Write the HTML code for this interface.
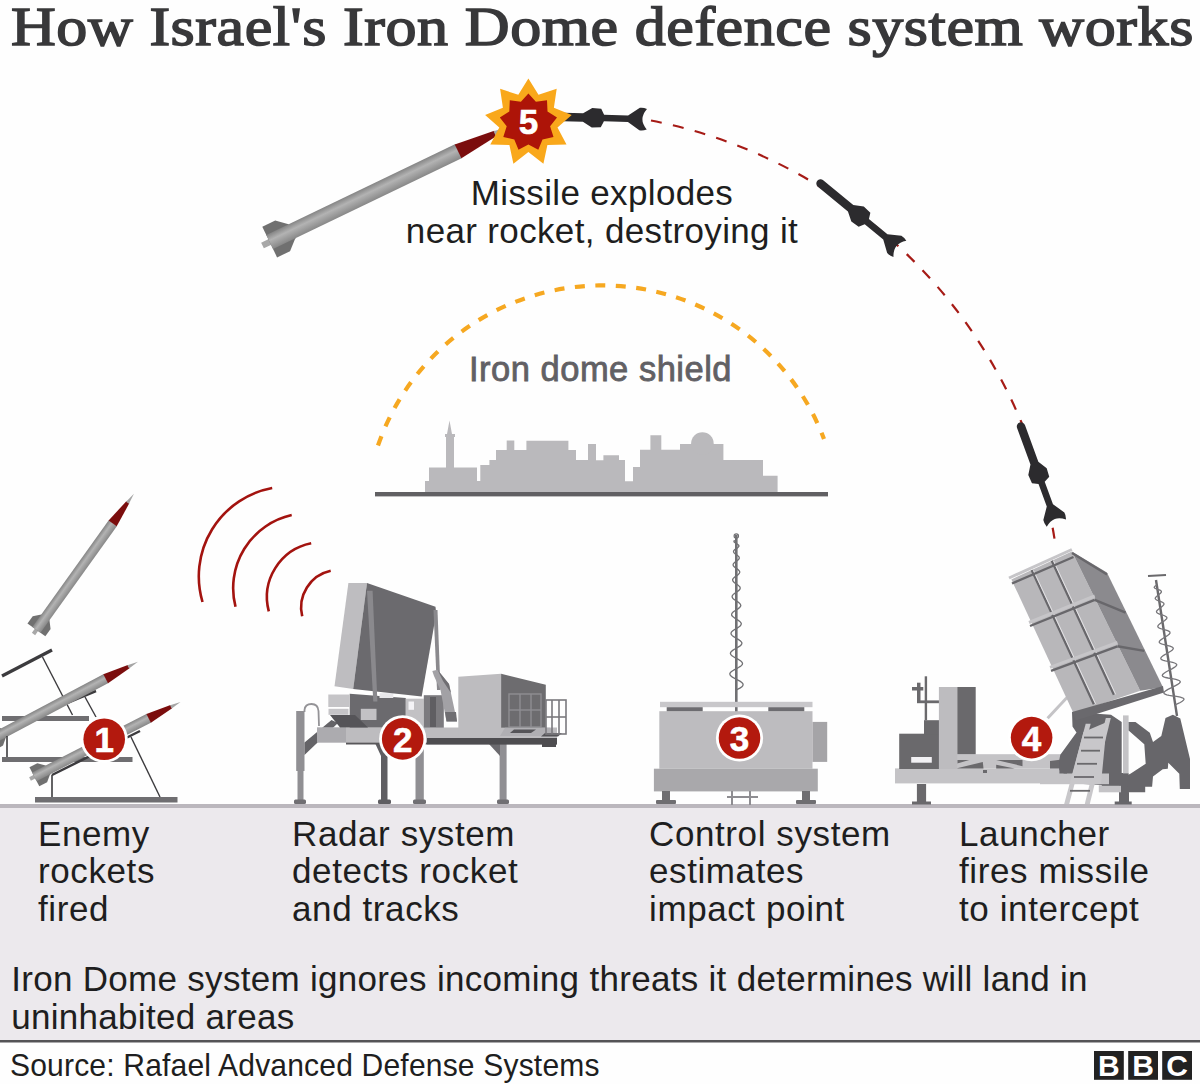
<!DOCTYPE html>
<html><head><meta charset="utf-8">
<style>
html,body{margin:0;padding:0;background:#fefefe;}
#root{position:relative;width:1200px;height:1084px;overflow:hidden;background:#fefefe;font-family:"Liberation Sans",sans-serif;color:#1e1e20;}
.t{position:absolute;white-space:nowrap;line-height:37px;}
#title{font-family:"Liberation Serif",serif;font-weight:normal;font-size:55px;color:#38383a;left:11px;top:-5px;line-height:64px;letter-spacing:0.5px;-webkit-text-stroke:1.5px #38383a;transform:scaleX(1.128);transform-origin:0 0;}
.lab{font-size:35px;line-height:37.6px;letter-spacing:0.6px;}
svg{position:absolute;left:0;top:0;}
.num{font-weight:bold;font-size:35px;color:#fff;-webkit-text-stroke:0.6px #fff;width:40px;margin-left:-20px;margin-top:-18px;text-align:center;line-height:38px;}
.bbc{font-weight:bold;font-size:30px;color:#fff;width:29.8px;text-align:center;top:1049.5px;line-height:31px;}
</style></head>
<body><div id="root">
<svg width="1200" height="1084" viewBox="0 0 1200 1084">
<defs>
  <linearGradient id="gbody" x1="0" y1="0" x2="0" y2="1">
    <stop offset="0" stop-color="#858585"/><stop offset="0.4" stop-color="#b3b3b3"/><stop offset="1" stop-color="#888888"/>
  </linearGradient>
</defs>

<!-- ground panel -->
<rect x="0" y="806" width="1200" height="235" fill="#ece9ed"/>
<rect x="0" y="804" width="1200" height="4" fill="#bbb7bd"/>
<rect x="0" y="1040" width="1200" height="2.5" fill="#545356"/>

<!-- interceptor arc -->
<path d="M 651 120.5 A 507 507 0 0 1 1055 542" fill="none" stroke="#a61b16" stroke-width="2.2" stroke-dasharray="11 11.5"/>
<!-- dome arc -->
<path d="M 378 445.5 A 237 237 0 0 1 824 439" fill="none" stroke="#f6a821" stroke-width="4.2" stroke-dasharray="10 10.5"/>

<!-- skyline -->
<path d="M425,492 L425,481 L429,481 L429,467.6 L446,467.6 L446,437 L445,437 L445,434 L447,434 L449.5,420.6 L452,434 L455,434 L455,437 L454,437 L454,467.6 L477,467.6 L477,481 L480.3,481 L480.3,465 L489.4,465 L489.4,460 L496,460 L496,450 L506.7,450 L506.7,440.5 L514.3,440.5 L514.3,450 L526.4,450 L526.4,440.7 L568.4,440.7 L568.4,450 L576,450 L576,460 L588,460 L588,444 L596,444 L596,460.2 L603.4,460.2 L603.4,455.3 L619,455.3 L619,460 L625,460 L625,481.3 L633,481.3 L633,467 L640,467 L640,449.8 L650.4,449.8 L650.4,435.3 L661.3,435.3 L661.3,449.8 L680,449.8 L680,444 L723.4,444 L723.4,460 L763,460 L763,475.8 L777.6,475.8 L777.6,492 Z" fill="#bab9bc"/>
<circle cx="702.4" cy="443.5" r="11.3" fill="#bab9bc"/>
<rect x="375" y="492" width="453" height="4.4" fill="#616063"/>

<!-- sky rocket -->
<g transform="translate(262.5,245.5) rotate(-25.7) scale(1.596,1.55)">
    <rect x="0" y="-2" width="6" height="4" fill="#a8a8a8"/>
    <polygon points="5,-11 14,-11 20.5,-5 20.5,5 14,11 5,11" fill="#707070"/>
    <rect x="5" y="-5" width="131.5" height="10" fill="url(#gbody)"/>
    <polygon points="136,-5 162,-1.8 162,1.8 136,5" fill="#7b0d0d"/>
    <polygon points="161.5,-1.8 172.5,0 161.5,1.8" fill="#a5a5a5"/>
  </g>
<!-- interceptor missiles -->
<g transform="translate(647,119.2) rotate(-178.5)"><path fill="#2c2b2e" d="M0,-10.3 Q4,-11.8 7.4,-11.2 L19,-3.3 L43,-3.3 L46,-9.2 L55,-9.8 L64,-4.2 L103,-4.2 A4.2,4.2 0 0 1 103,4.2 L64,4.2 L55,9.8 L46,9.2 L43,3.3 L19,3.3 L7.4,11.2 Q4,11.8 0.3,10.3 Q4.6,5 4.6,0 Q4.6,-5 0,-10.3 Z"/></g>
<g transform="translate(900,249) rotate(-140.5)"><path fill="#2c2b2e" d="M0,-10.3 Q4,-11.8 7.4,-11.2 L19,-3.3 L43,-3.3 L46,-9.2 L55,-9.8 L64,-4.2 L103,-4.2 A4.2,4.2 0 0 1 103,4.2 L64,4.2 L55,9.8 L46,9.2 L43,3.3 L19,3.3 L7.4,11.2 Q4,11.8 0.3,10.3 Q4.6,5 4.6,0 Q4.6,-5 0,-10.3 Z"/></g>
<g transform="translate(1056.4,523.2) rotate(-110.1)"><path fill="#2c2b2e" d="M0,-10.3 Q4,-11.8 7.4,-11.2 L19,-3.3 L43,-3.3 L46,-9.2 L55,-9.8 L64,-4.2 L103,-4.2 A4.2,4.2 0 0 1 103,4.2 L64,4.2 L55,9.8 L46,9.2 L43,3.3 L19,3.3 L7.4,11.2 Q4,11.8 0.3,10.3 Q4.6,5 4.6,0 Q4.6,-5 0,-10.3 Z"/></g>
<!-- explosion -->
<polygon fill="#f9a81b" points="528.4,78.5 538.5,94.8 556.7,88.8 553.9,107.8 571.7,114.9 557.5,127.6 566.5,144.5 547.4,145.1 543.4,163.8 528.4,152.0 513.4,163.8 509.4,145.1 490.3,144.5 499.3,127.6 485.1,114.9 502.9,107.8 500.1,88.8 518.3,94.8"/>
<polygon fill="#ad1408" points="528.4,93.5 535.9,101.8 547.0,100.3 547.5,111.5 557.0,117.5 550.1,126.3 553.5,137.0 542.5,139.4 538.3,149.8 528.4,144.5 518.5,149.8 514.3,139.4 503.3,137.0 506.7,126.3 499.8,117.5 509.3,111.5 509.8,100.3 520.9,101.8"/>

<!-- radar waves -->
<g fill="none" stroke="#a3130f" stroke-width="2.6">
<path d="M202.5,602 A 90 90 0 0 1 272.2,488"/>
<path d="M235.5,606.8 A 75 75 0 0 1 291.7,515"/>
<path d="M268.8,611.3 A 55 55 0 0 1 311.2,543.2"/>
<path d="M302.2,616.2 A 37.5 37.5 0 0 1 330.7,570.8"/>
</g>

<!-- enemy launchers -->
<g>
  <line x1="2" y1="676" x2="52" y2="650" stroke="#3c3b3e" stroke-width="3.2"/>
  <line x1="42.5" y1="657" x2="72.5" y2="715" stroke="#3c3b3e" stroke-width="1.4"/>
  <rect x="2" y="716" width="87" height="5" fill="#6f6e71"/>
  <line x1="62" y1="705" x2="96" y2="691" stroke="#3c3b3e" stroke-width="2.5"/>
  <g transform="translate(-14.5,742.4) rotate(-27.9)">
    <rect x="0" y="-2" width="6" height="4" fill="#a8a8a8"/>
    <polygon points="5,-11 14,-11 20.5,-5 20.5,5 14,11 5,11" fill="#707070"/>
    <rect x="5" y="-5" width="131.5" height="10" fill="url(#gbody)"/>
    <polygon points="136,-5 162,-1.8 162,1.8 136,5" fill="#7b0d0d"/>
    <polygon points="161.5,-1.8 172.5,0 161.5,1.8" fill="#a5a5a5"/>
  </g>
  <line x1="7" y1="736" x2="7" y2="757" stroke="#3c3b3e" stroke-width="1.6"/>
  <line x1="85" y1="697" x2="96" y2="717" stroke="#3c3b3e" stroke-width="1.4"/>
  <rect x="2" y="757" width="130.5" height="5" fill="#6f6e71"/>
  <line x1="52" y1="775" x2="140" y2="731" stroke="#3c3b3e" stroke-width="2.5"/>
  <g transform="translate(30,779) rotate(-27.1) scale(0.98)">
    <rect x="0" y="-2" width="6" height="4" fill="#a8a8a8"/>
    <polygon points="5,-11 14,-11 20.5,-5 20.5,5 14,11 5,11" fill="#707070"/>
    <rect x="5" y="-5" width="131.5" height="10" fill="url(#gbody)"/>
    <polygon points="136,-5 162,-1.8 162,1.8 136,5" fill="#7b0d0d"/>
    <polygon points="161.5,-1.8 172.5,0 161.5,1.8" fill="#a5a5a5"/>
  </g>
  <line x1="52" y1="775" x2="52" y2="797" stroke="#3c3b3e" stroke-width="1.6"/>
  <line x1="131" y1="737" x2="160" y2="797" stroke="#3c3b3e" stroke-width="1.4"/>
  <rect x="35" y="797" width="142.5" height="5.5" fill="#6f6e71"/>
  <g transform="translate(104.2,739.2)">
    <circle r="23.6" fill="#ffffff"/>
    <circle r="20.8" fill="#b3190e"/>
  </g>
</g>
<g transform="translate(33.5,634) rotate(-54.4)">
    <rect x="0" y="-2" width="6" height="4" fill="#a8a8a8"/>
    <polygon points="5,-11 14,-11 20.5,-5 20.5,5 14,11 5,11" fill="#707070"/>
    <rect x="5" y="-5" width="131.5" height="10" fill="url(#gbody)"/>
    <polygon points="136,-5 162,-1.8 162,1.8 136,5" fill="#7b0d0d"/>
    <polygon points="161.5,-1.8 172.5,0 161.5,1.8" fill="#a5a5a5"/>
  </g>
<!-- radar vehicle -->
<g id="radar">
  <!-- legs -->
  <rect x="296.2" y="711" width="8.3" height="60" fill="#908f93"/>
  <rect x="297.5" y="769" width="6" height="32" fill="#908f93"/>
  <rect x="294" y="799.5" width="12" height="4.5" rx="1.5" fill="#706f73"/>
  <path d="M304.5,712 L304.5,710 Q305,704 311.5,704 Q318,704 318.5,711 L319,726" fill="none" stroke="#949397" stroke-width="1.8"/>
  <rect x="381" y="744" width="6.5" height="57" fill="#5f5e62"/>
  <polygon points="375,743 384,743 387,756 381,756" fill="#5f5e62"/>
  <rect x="378" y="799.5" width="13" height="4.5" rx="1.5" fill="#5f5e62"/>
  <rect x="415.5" y="744" width="8.3" height="57" fill="#908f93"/>
  <rect x="413" y="799.5" width="13" height="4.5" rx="1.5" fill="#706f73"/>
  <rect x="499.6" y="744" width="7" height="57" fill="#908f93"/>
  <polygon points="489,744 500,744 500,756" fill="#6b6a6e"/>
  <rect x="497" y="799.5" width="12" height="4.5" rx="1.5" fill="#706f73"/>
  <!-- platform -->
  <polygon points="304.5,742.5 331.5,720 338,723 316,744 304.5,755" fill="#646367"/>
  <rect x="317" y="727.5" width="240" height="15" fill="#bdbcbf"/>
  <rect x="317" y="727.5" width="29" height="15" fill="#acabaf"/>
  <rect x="346" y="742.5" width="211" height="2" fill="#58575a"/>
  <rect x="427" y="738" width="130" height="6.3" fill="#4e4d50"/>
  <rect x="542" y="744" width="14" height="3" fill="#4e4d50"/>
  <!-- right box -->
  <polygon points="458.3,676.8 501.1,673.7 501.1,735.6 458.3,735.6" fill="#bdbcbf"/>
  <polygon points="501.1,673.7 545.8,684.7 545.8,727.8 501.1,727.8" fill="#6d6c6f"/>
  <g stroke="#8f8e92" stroke-width="1.4" fill="none">
    <rect x="509" y="694" width="32" height="33"/>
    <line x1="520" y1="694" x2="520" y2="727"/><line x1="531" y1="694" x2="531" y2="727"/>
    <line x1="509" y1="710" x2="541" y2="710"/>
  </g>
  <polygon points="505,727.8 550,727.8 557,736 500,736" fill="#b0afb3"/>
  <polygon points="514,729.5 536,729.5 531,733 510,733" fill="#555458"/>
  <polygon points="545,733 562,733 558,736.5 541,736.5" fill="#555458"/>
  <g stroke="#7a797d" stroke-width="1.6" fill="none">
    <rect x="546" y="700" width="20" height="34"/>
    <line x1="552" y1="700" x2="552" y2="734"/><line x1="559" y1="700" x2="559" y2="734"/>
    <line x1="546" y1="717" x2="566" y2="717"/>
  </g>
  <!-- radar base -->
  <polygon points="349.7,693.8 405.8,698 405.8,727.5 349.7,727.5" fill="#6b6a6e"/>
  <rect x="328.3" y="694.5" width="21.4" height="12.5" fill="#c5c4c7"/>
  <rect x="328.5" y="708.8" width="20" height="6" fill="#c5c4c7"/>
  <polygon points="330,715 355,715 368,727.5 340,727.5" fill="#555458"/>
  <rect x="360.8" y="708.8" width="15.7" height="11.2" fill="#c2c1c4"/>
  <rect x="379.5" y="693.2" width="13.8" height="4.8" fill="#e8e7ea"/>
  <!-- equipment -->
  <rect x="405.8" y="698.7" width="18" height="29" fill="#c2c1c4"/>
  <rect x="408.5" y="701.5" width="5.5" height="8.3" fill="#f4f3f6"/>
  <rect x="423.8" y="695.2" width="20" height="32.5" fill="#7c7b7f"/>
  <rect x="430" y="697" width="6" height="30" fill="#5f5e62"/>
  <!-- radar panel -->
  <polygon points="348.4,583.1 367,583.1 353.2,689 334.5,686.2" fill="#bebdc0"/>
  <polygon points="367,583.1 435.5,606.7 436.2,613.6 421.7,696.6 353.2,689" fill="#6b6a6e"/>
  <polygon points="367,590.8 372.6,590.8 377.4,701.5 373.3,701.5" fill="#8a898d"/>
  <polygon points="433.5,610 437.5,610 440.5,690 437,690" fill="#8a898d"/>
  <polygon points="432.3,671 437.5,669.8 449,684 457,721.4 446.5,721.4 440.5,690 434,676" fill="#a2a1a5"/><polygon points="437.5,669.8 449,684 451,693 443,681" fill="#6f6e72"/><polygon points="445,712 456,712 457,721.4 446.5,721.4" fill="#6f6e72"/>
</g>
<!-- control system -->
<g id="control">
  <rect x="735" y="535" width="2.6" height="178" fill="#707073"/>
  <circle cx="736.3" cy="536" r="2.2" fill="none" stroke="#707073" stroke-width="1.2"/>
  <polyline points="736.3,540.0 733.9,541.1 734.2,542.1 735.8,543.2 737.6,544.3 738.8,545.4 738.9,546.4 737.9,547.5 736.4,548.6 734.8,549.6 733.7,550.7 733.5,551.8 734.1,552.9 735.3,553.9 736.9,555.0 738.3,556.1 739.1,557.1 739.3,558.2 738.7,559.3 737.5,560.4 736.0,561.4 734.6,562.5 733.5,563.6 733.1,564.6 733.3,565.7 734.2,566.8 735.6,567.9 737.1,568.9 738.5,570.0 739.4,571.1 739.8,572.1 739.4,573.2 738.5,574.3 737.2,575.4 735.6,576.4 734.2,577.5 733.1,578.6 732.6,579.6 732.8,580.7 733.5,581.8 734.8,582.9 736.3,583.9 737.8,585.0 739.1,586.1 740.0,587.1 740.2,588.2 739.9,589.3 738.9,590.4 737.5,591.4 736.0,592.5 734.4,593.6 733.1,594.6 732.3,595.7 732.1,596.8 732.5,597.9 733.5,598.9 734.9,600.0 736.5,601.1 738.1,602.1 739.5,603.2 740.4,604.3 740.8,605.4 740.5,606.4 739.6,607.5 738.3,608.6 736.6,609.6 735.0,610.7 733.4,611.8 732.3,612.9 731.7,613.9 731.6,615.0 732.2,616.1 733.4,617.1 734.9,618.2 736.6,619.3 738.3,620.4 739.8,621.4 740.8,622.5 741.3,623.6 741.1,624.6 740.4,625.7 739.1,626.8 737.5,627.9 735.7,628.9 733.9,630.0 732.5,631.1 731.4,632.1 731.0,633.2 731.2,634.3 732.0,635.4 733.3,636.4 735.0,637.5 736.8,638.6 738.6,639.6 740.2,640.7 741.3,641.8 741.9,642.9 741.8,643.9 741.1,645.0 739.8,646.1 738.1,647.1 736.3,648.2 734.4,649.3 732.7,650.4 731.4,651.4 730.6,652.5 730.4,653.6 730.9,654.6 732.0,655.7 733.5,656.8 735.4,657.9 737.4,658.9 739.3,660.0 740.8,661.1 741.9,662.1 742.5,663.2 742.4,664.3 741.6,665.4 740.3,666.4 738.5,667.5 736.6,668.6 734.5,669.6 732.7,670.7 731.2,671.8 730.2,672.9 729.8,673.9 730.1,675.0 731.0,676.1 732.4,677.1 734.3,678.2 736.4,679.3 738.4,680.4 740.3,681.4 741.8,682.5 742.8,683.6 743.1,684.6 742.8,685.7 741.9,686.8 740.3,687.9 738.4,688.9 736.3,690.0" fill="none" stroke="#707073" stroke-width="1.3"/>
  <rect x="660" y="701.8" width="152.5" height="5.4" fill="#c8c7ca"/>
  <rect x="666.7" y="707.2" width="36" height="4.5" fill="#6d6c70"/>
  <rect x="768.3" y="707.2" width="36" height="4.5" fill="#6d6c70"/>
  <rect x="659.3" y="711.2" width="153.2" height="57.5" fill="#bdbcbf"/>
  <rect x="812.5" y="721.9" width="14.7" height="40" fill="#a5a4a7"/>
  <rect x="653.9" y="768.7" width="163.9" height="22.7" fill="#a9a8ab"/>
  <rect x="662" y="791" width="8" height="11" fill="#6f6e71"/>
  <rect x="656" y="800" width="20" height="4" rx="1" fill="#6f6e71"/>
  <rect x="802" y="791" width="8" height="11" fill="#6f6e71"/>
  <rect x="796" y="800" width="20" height="4" rx="1" fill="#6f6e71"/>
  <rect x="731" y="791" width="2" height="14" fill="#8e8d91"/>
  <rect x="749" y="791" width="2" height="14" fill="#8e8d91"/>
  <rect x="727" y="796" width="31" height="2" fill="#8e8d91"/>
</g>
<!-- launcher -->
<g id="launcher">
  <!-- legs -->
  <rect x="916.9" y="784" width="9.2" height="18" fill="#6a696c"/>
  <rect x="912" y="801.5" width="19" height="3" fill="#6a696c"/>
  <rect x="1119" y="784" width="10" height="18" fill="#67666a"/>
  <rect x="1114.7" y="801.5" width="17" height="3" fill="#67666a"/>
  <!-- deck -->
  <rect x="895" y="768.4" width="216" height="15" fill="#c4c3c6"/>
  <rect x="957" y="754.2" width="108" height="14.2" fill="#c4c3c6"/>
  <polygon points="1050,761 1066,759 1066,768.4 1050,768.4" fill="#6a696c"/>
  <polygon points="957.3,759.9 969.3,759.9 957.3,763.4" fill="#6a696c"/>
  <polygon points="955.9,768.4 982.8,762 983.5,768.4" fill="#6a696c"/>
  <polygon points="996.2,759.9 1022.5,759.9 1022.5,766.2" fill="#6a696c"/>
  <polygon points="996.2,764.8 996.2,768.4 1014.7,768.4" fill="#6a696c"/>
  <rect x="983" y="770" width="4" height="3" fill="#6a696c"/>
  <!-- cab -->
  <rect x="899.2" y="733.7" width="42.5" height="35.3" fill="#6a696c"/>
  <rect x="924" y="720.2" width="17" height="14" fill="#6a696c"/>
  <rect x="911.2" y="757" width="20.6" height="5.7" fill="#f2f1f4"/>
  <rect x="924.7" y="676.3" width="2.4" height="44" fill="#6a696c"/>
  <rect x="912" y="687" width="11.3" height="3.5" fill="#6a696c"/>
  <rect x="917" y="682.7" width="3.5" height="19.8" fill="#6a696c"/>
  <rect x="917" y="700.4" width="23.3" height="2.8" fill="#6a696c"/>
  <rect x="938.9" y="687" width="18.4" height="82" fill="#bdbcbf"/>
  <rect x="957.3" y="687" width="18.4" height="67.2" fill="#6a696c"/>
  <!-- strut -->
  <line x1="1047.6" y1="718.2" x2="1068.2" y2="696.3" stroke="#c4c3c6" stroke-width="3"/>
  <!-- mount -->
  <polygon points="1072,712 1111,714.8 1121.7,722.1 1121.7,785 1101.8,785 1083,784 1065.4,775 1059.3,770 1059.3,759.8 1060.3,754.8 1076.5,732.5 1072.5,726.4" fill="#67666a"/>
  <rect x="1098.8" y="785.2" width="30.4" height="7.1" fill="#c4c3c6"/>
  <rect x="1101.8" y="784" width="28" height="1.8" fill="#67666a"/>
  <rect x="1121" y="773" width="7.6" height="20" fill="#67666a"/>
  <rect x="1123" y="715.4" width="5.6" height="58" fill="#c4c3c6"/>
  <polygon points="1128.6,722.1 1135.5,722.1 1149.8,732.7 1153,742 1161.3,736 1165.5,718 1172.9,714.8 1180.3,718.5 1190,759 1190,789 1179.8,789 1179.3,773.8 1168.3,762.7 1167.8,768.7 1162.7,769.2 1153,776.6 1152.1,786.7 1145.2,786.7 1145.2,792.3 1127.7,792.3 1127.7,775 1130.4,773.8 1145.7,763.7 1144.3,744.3 1128.6,730.4" fill="#67666a"/>
  <!-- antenna -->
  <line x1="1156" y1="580" x2="1177" y2="716" stroke="#6a696c" stroke-width="2.4"/>
  <line x1="1148" y1="576" x2="1166" y2="575" stroke="#6a696c" stroke-width="1.8"/>
  <polyline points="1157.0,585.0 1154.9,586.2 1154.2,587.2 1154.6,588.0 1155.9,588.7 1157.6,589.3 1159.3,589.9 1160.7,590.6 1161.4,591.4 1161.3,592.2 1160.5,593.2 1159.3,594.3 1157.8,595.4 1156.5,596.5 1155.5,597.5 1155.2,598.4 1155.6,599.2 1156.6,600.0 1158.1,600.6 1159.8,601.2 1161.5,601.9 1162.9,602.5 1163.8,603.3 1164.0,604.1 1163.6,605.0 1162.6,606.1 1161.2,607.2 1159.7,608.3 1158.2,609.4 1157.1,610.4 1156.5,611.4 1156.6,612.2 1157.3,613.0 1158.5,613.7 1160.2,614.3 1162.1,614.9 1163.9,615.5 1165.4,616.2 1166.5,616.9 1166.9,617.7 1166.7,618.6 1165.8,619.6 1164.5,620.7 1162.8,621.8 1161.1,622.9 1159.6,624.1 1158.4,625.1 1157.8,626.1 1157.9,626.9 1158.7,627.7 1160.0,628.4 1161.8,629.0 1163.8,629.5 1165.9,630.1 1167.7,630.7 1169.1,631.4 1169.9,632.1 1170.0,633.0 1169.4,634.0 1168.2,635.0 1166.6,636.1 1164.7,637.3 1162.8,638.5 1161.2,639.6 1159.9,640.7 1159.3,641.6 1159.3,642.5 1160.1,643.3 1161.5,643.9 1163.4,644.5 1165.6,645.1 1167.9,645.6 1170.0,646.2 1171.7,646.8 1172.8,647.5 1173.3,648.3 1173.0,649.2 1172.1,650.2 1170.6,651.3 1168.6,652.5 1166.5,653.7 1164.4,654.9 1162.7,656.0 1161.4,657.1 1160.8,658.1 1160.9,658.9 1161.7,659.7 1163.3,660.3 1165.3,660.9 1167.7,661.4 1170.2,661.9 1172.6,662.4 1174.6,663.0 1176.0,663.7 1176.7,664.4 1176.6,665.3 1175.8,666.3 1174.3,667.4 1172.3,668.6 1170.1,669.8 1167.7,671.0 1165.5,672.2 1163.8,673.4 1162.7,674.4 1162.3,675.4 1162.7,676.2 1163.8,676.9 1165.7,677.5 1168.0,678.0 1170.7,678.5 1173.4,678.9 1175.9,679.4 1178.0,680.0 1179.5,680.7 1180.2,681.4 1180.2,682.3 1179.3,683.3 1177.7,684.4 1175.5,685.6 1173.0,686.9 1170.5,688.2 1168.0,689.4 1166.0,690.6 1164.6,691.7 1163.9,692.6 1164.1,693.5 1165.1,694.2 1166.8,694.8 1169.2,695.4 1172.0,695.8 1174.9,696.2 1177.8,696.7 1180.3,697.2 1182.3,697.8 1183.6,698.5 1184.0,699.3 1183.5,700.2 1182.2,701.3 1180.3,702.5 1177.8,703.7 1175.0,705.0" fill="none" stroke="#77767a" stroke-width="1.3"/>
  <!-- box -->
  <polygon points="1011.4,579.4 1071.9,551.4 1140.2,690.7 1073.6,713.5" fill="#b8b7ba"/>
  <polygon points="1071.9,551.4 1106.9,572.4 1163,687.2 1140.2,690.7" fill="#8b8a8e"/>
  <polygon points="1072,712 1163,686 1164,692.5 1076,720.5" fill="#6a696d"/>
  <g stroke="#68676b" stroke-width="2.2">
    <line x1="1031.6" y1="570.1" x2="1093.8" y2="704.2"/>
    <line x1="1051.7" y1="560.7" x2="1113.9" y2="694.8"/>
  </g>
  <g stroke="#e4e3e6" stroke-width="1">
    <line x1="1033.5" y1="570.5" x2="1095.6" y2="703.8"/>
    <line x1="1053.6" y1="561" x2="1115.7" y2="694.4"/>
  </g>
  <g stroke="#68676b" stroke-width="2.4">
    <line x1="1012" y1="583.5" x2="1073.5" y2="557"/><line x1="1072" y1="553" x2="1107" y2="574.5"/>
    <line x1="1030" y1="626" x2="1094.7" y2="599.8"/>
    <line x1="1094.7" y1="599.8" x2="1125.6" y2="612.7"/>
    <line x1="1051" y1="670.8" x2="1117.4" y2="646.3"/>
    <line x1="1117.4" y1="646.3" x2="1144.3" y2="650.9"/>
  </g>
  <g stroke="#c6c5c8" stroke-width="3">
    <line x1="1009" y1="578" x2="1071.9" y2="549.5"/>
    <line x1="1029" y1="622.5" x2="1094.7" y2="596"/>
    <line x1="1050" y1="667.3" x2="1117.4" y2="642.5"/>
  </g>
  <rect x="1040" y="773.5" width="69" height="10.7" fill="#c4c3c6"/>
  <polygon points="1059.4,761 1067,761 1067,773.5 1059.4,773.5" fill="#67666a"/>
  <!-- ladder -->
  <polygon points="1083.5,732 1107,722 1101,784 1070,784" fill="#c8c7ca"/>
  <polygon points="1064.2,804 1069.2,804 1090.7,723.7 1085.7,723.7" fill="#c8c7ca"/>
  <polygon points="1084.8,804 1089.8,804 1110.8,718 1105.8,718" fill="#c8c7ca"/>
  <g stroke="#6a696c" stroke-width="1.8">
    <line x1="1084" y1="737.5" x2="1103" y2="737.5"/>
    <line x1="1081" y1="750.7" x2="1100" y2="750.7"/>
    <line x1="1077" y1="763.8" x2="1097" y2="763.8"/>
    <line x1="1074" y1="777" x2="1094" y2="777"/>
    <line x1="1070" y1="790.8" x2="1090" y2="790.8"/>
  </g>
</g>
<g transform="translate(402.7,738.9)">
    <circle r="23.6" fill="#ffffff"/>
    <circle r="20.8" fill="#b3190e"/>
  </g>
<g transform="translate(739.5,738)">
    <circle r="23.6" fill="#ffffff"/>
    <circle r="20.8" fill="#b3190e"/>
  </g>
<g transform="translate(1031.6,737.6)">
    <circle r="23.6" fill="#ffffff"/>
    <circle r="20.8" fill="#b3190e"/>
  </g>
<!-- BBC logo -->
<rect x="1094" y="1051" width="29.8" height="28.8" fill="#222"/>
<rect x="1128.2" y="1051" width="29.8" height="28.8" fill="#222"/>
<rect x="1162.2" y="1051" width="29.8" height="28.8" fill="#222"/>
</svg>
<div class="t" id="title">How Israel's Iron Dome defence system works</div>
<div class="t lab" style="left:38px;top:814.7px;">Enemy<br>rockets<br>fired</div>
<div class="t lab" style="left:292px;top:814.7px;">Radar system<br>detects rocket<br>and tracks</div>
<div class="t lab" style="left:649px;top:814.7px;">Control system<br>estimates<br>impact point</div>
<div class="t lab" style="left:959px;top:814.7px;">Launcher<br>fires missile<br>to intercept</div>
<div class="t lab" style="left:11.2px;top:960px;letter-spacing:0.3px;line-height:37.5px;">Iron Dome system ignores incoming threats it determines will land in<br>uninhabited areas</div>
<div class="t" style="left:10px;top:1046.5px;font-size:31.5px;line-height:37px;letter-spacing:0.18px;transform:scaleX(0.954);transform-origin:0 0;">Source: Rafael Advanced Defense Systems</div>
<div class="t lab" style="left:0;width:1204px;text-align:center;top:174px;letter-spacing:0.35px;">Missile explodes<br>near rocket, destroying it</div>
<div class="t" style="left:0;width:1201px;text-align:center;top:351px;font-size:34.5px;font-weight:normal;color:#616064;letter-spacing:0.5px;-webkit-text-stroke:0.8px #616064;">Iron dome shield</div>
<div class="t num" style="left:104.2px;top:739.2px;">1</div>
<div class="t num" style="left:402.7px;top:738.9px;">2</div>
<div class="t num" style="left:739.5px;top:738px;">3</div>
<div class="t num" style="left:1031.6px;top:737.6px;">4</div>
<div class="t num" style="left:528.4px;top:121.3px;">5</div>
<div class="t bbc" style="left:1094px;">B</div>
<div class="t bbc" style="left:1128.2px;">B</div>
<div class="t bbc" style="left:1162.2px;">C</div>
</div>
</body></html>
